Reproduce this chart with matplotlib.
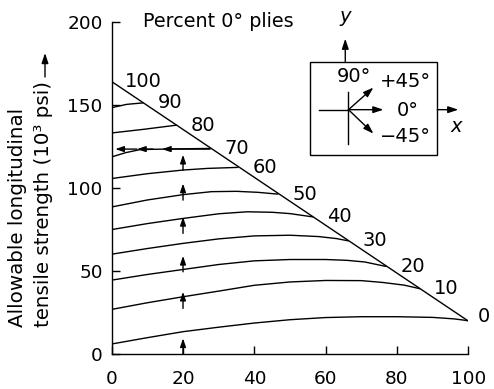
import numpy as np
import matplotlib.pyplot as plt

# curves of constant percent 0 deg plies (x = percent +-45 plies)
c0_x = [0, 10, 20, 30, 40, 50, 60, 70, 80, 90, 96, 100]
c0_y = [6.2, 10, 13.6, 16.3, 18.8, 20.8, 22.1, 22.6, 22.6, 22.2, 21.3, 20.2]
c10_x = [0, 10, 20, 30, 40, 50, 60, 70, 76, 82, 86.5]
c10_y = [27, 31, 34.6, 38, 41.5, 43.5, 44.4, 44.3, 43.2, 41.6, 39.4]
c20_x = [0, 10, 20, 30, 40, 50, 60, 66, 71, 77]
c20_y = [44.6, 48, 51, 54, 56.2, 57, 57, 56.5, 55.5, 52.8]
c30_x = [0, 10, 20, 30, 40, 50, 58, 63, 66.4]
c30_y = [60.2, 63.6, 66.7, 69.4, 71.2, 71.6, 70.8, 69.6, 68.2]
c40_x = [0, 10, 20, 30, 38, 45, 50, 56.5]
c40_y = [75, 78.6, 81.7, 84.5, 85.7, 85.4, 84.6, 82.6]
c50_x = [0, 10, 20, 28, 35, 41, 46.7]
c50_y = [88.6, 92.8, 96, 97.8, 98, 97.4, 96.3]
c60_x = [0, 10, 20, 27, 35.5]
c60_y = [105.7, 108.6, 110.8, 111.8, 112.4]
c70_x = [0, 4, 8, 15, 27.6]
c70_y = [118.7, 121.3, 123.1, 123.4, 123.8]
c80_x = [0, 9, 18.2]
c80_y = [133.1, 135.3, 137.8]
c90_x = [0, 4.2, 8.9]
c90_y = [148.3, 150.3, 151.2]

curves = [(c0_x, c0_y), (c10_x, c10_y), (c20_x, c20_y), (c30_x, c30_y),
          (c40_x, c40_y), (c50_x, c50_y), (c60_x, c60_y), (c70_x, c70_y),
          (c80_x, c80_y), (c90_x, c90_y)]
curve_labels = ['0', '10', '20', '30', '40', '50', '60', '70', '80', '90']

# envelope (all curves end on it)
diag_x = [0, 100]
diag_y = [164, 20]

# design path arrows
up_x = 20
up_base = [0, 27.6, 49.6, 72.7, 92.7, 110.7]
up_tip = [9.6, 37.6, 59.2, 82.6, 102.7, 120]
left_y = 123.4
left_start = [27.6, 11.6, 7.1]
left_end = [14.1, 7.1, 1.0]

xticks = [0, 20, 40, 60, 80, 100]
yticks = [0, 50, 100, 150, 200]

fig = plt.figure(figsize=(4.94, 3.89), dpi=100)
ax = fig.add_axes([0.2261, 0.0892, 0.7219, 0.855])

lw = 1.0
for (cx, cy), lab in zip(curves, curve_labels):
    ax.plot(cx, cy, color='k', lw=lw, solid_capstyle='butt')
    if lab == '0':
        off = (9, 4)
    else:
        off = (14, 0)
    ax.annotate(lab, xy=(cx[-1], cy[-1]), xytext=off, textcoords='offset pixels',
                ha='left', va='center', fontsize=14)
ax.plot(diag_x, diag_y, color='k', lw=lw)
ax.annotate('100', xy=(diag_x[0], diag_y[0]), xytext=(13, 0), textcoords='offset pixels',
            ha='left', va='center', fontsize=14)

small = dict(arrowstyle='-|>,head_length=0.5,head_width=0.17', color='k', lw=lw,
             shrinkA=0, shrinkB=0, mutation_scale=10)
for b, t in zip(up_base, up_tip):
    ax.annotate('', xy=(up_x, t), xytext=(up_x, b), arrowprops=small)
for s, e in zip(left_start, left_end):
    ax.annotate('', xy=(e, left_y), xytext=(s, left_y), arrowprops=small)

ax.text(8.9, 200.4, 'Percent 0\u00b0 plies', ha='left', va='center', fontsize=13.8)

# ply orientation sketch
ax.add_patch(plt.Rectangle((55.5, 119.7), 35.8, 56.3, fill=False, ec='k', lw=lw,
                           clip_on=False))
big = dict(arrowstyle='-|>,head_length=0.6,head_width=0.2', color='k', lw=lw,
           shrinkA=0, shrinkB=0, mutation_scale=10)
cx0, cy0 = 66.4, 147.1
ax.plot([cx0, cx0], [126.3, 157.7], color='k', lw=lw)
ax.plot([58.1, cx0], [cy0, cy0], color='k', lw=lw)
ax.annotate('', xy=(76.2, cy0), xytext=(cx0, cy0), arrowprops=big)
ax.annotate('', xy=(73.4, 160.4), xytext=(cx0, cy0), arrowprops=big)
ax.annotate('', xy=(73.4, 132.7), xytext=(cx0, cy0), arrowprops=big)
ax.annotate('', xy=(65.5, 189.8), xytext=(65.5, 176), arrowprops=big, annotation_clip=False)
ax.annotate('', xy=(97.2, cy0), xytext=(91.3, cy0), arrowprops=big, annotation_clip=False)
ax.text(65.5, 203, 'y', style='italic', ha='center', va='center', fontsize=14, clip_on=False)
ax.text(96.7, 137.1, 'x', style='italic', ha='center', va='center', fontsize=14)
ax.text(67.8, 167.1, '90\u00b0', ha='center', va='center', fontsize=14)
ax.text(82.4, 164.1, '+45\u00b0', ha='center', va='center', fontsize=14)
ax.text(83.0, 146.7, '0\u00b0', ha='center', va='center', fontsize=14)
ax.text(82.4, 131.1, '\u221245\u00b0', ha='center', va='center', fontsize=14)

ax.set_xlim(0, 100)
ax.set_ylim(0, 200)
ax.set_xticks(xticks)
ax.set_yticks(yticks)
ax.spines['top'].set_visible(False)
ax.spines['right'].set_visible(False)
for sp in ['left', 'bottom']:
    ax.spines[sp].set_linewidth(lw)
ax.tick_params(direction='in', length=6, width=lw, labelsize=13.3)
ax.tick_params(axis='y', pad=6.5)
ax.tick_params(axis='x', pad=11)

fig.text(18 / 494, 1 - 327 / 389, 'Allowable longitudinal', rotation=90,
         ha='center', va='bottom', fontsize=14.3)
fig.text(43.5 / 494, 1 - 327 / 389, 'tensile strength (10\u00b3 psi)', rotation=90,
         ha='center', va='bottom', fontsize=14.3)
fig.add_artist(plt.matplotlib.patches.FancyArrowPatch(
    (45 / 494, 1 - 77 / 389), (45 / 494, 1 - 53 / 389), transform=fig.transFigure,
    **big))

fig.savefig('out.png', dpi=100)
